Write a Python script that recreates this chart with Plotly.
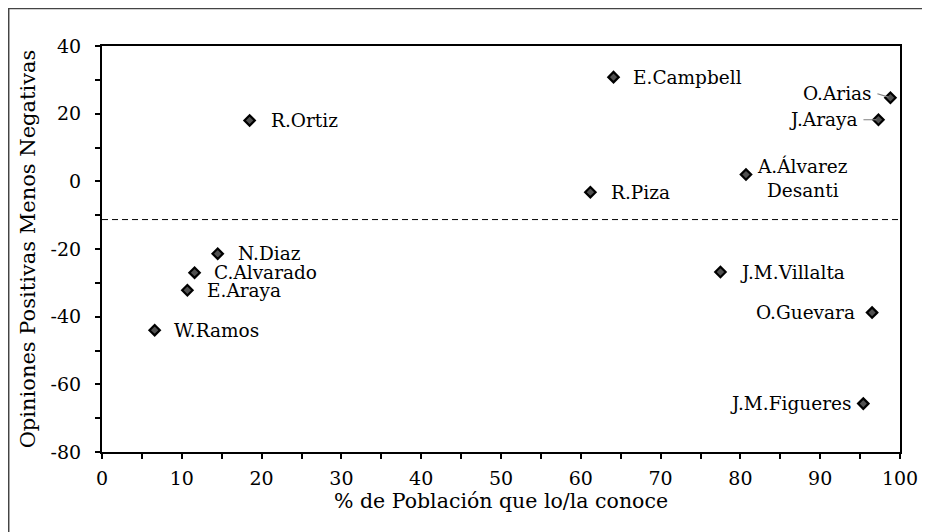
import plotly.graph_objects as go

# ---- data ----
names = ["R.Ortiz", "N.Diaz", "C.Alvarado", "E.Araya", "W.Ramos",
         "E.Campbell", "R.Piza", "O.Arias", "J.Araya", "A.Álvarez<br>Desanti",
         "J.M.Villalta", "O.Guevara", "J.M.Figueres"]
conoce = [18.5, 14.5, 11.6, 10.7, 6.6,
          64.1, 61.2, 98.8, 97.3, 80.7,
          77.5, 96.5, 95.4]
balance = [18.0, -21.4, -27.0, -32.2, -44.0,
           30.8, -3.2, 24.7, 18.2, 2.0,
           -26.8, -38.8, -65.7]
reference_line = -11.3

x_ticks = [0, 10, 20, 30, 40, 50, 60, 70, 80, 90, 100]
y_ticks = [-80, -60, -40, -20, 0, 20, 40]

x_title = "% de Población que lo/la conoce"
y_title = "Opiniones Positivas Menos Negativas"

# label placement (style only): side, x shift px, y shift px (up), leader line
label_style = {
    "R.Ortiz": ("right", 19, 0, False),
    "N.Diaz": ("right", 18, 0, False),
    "C.Alvarado": ("right", 17, 0, False),
    "E.Araya": ("right", 18, 0, False),
    "W.Ramos": ("right", 17, 0, False),
    "E.Campbell": ("right", 17, 0, False),
    "R.Piza": ("right", 19, 0, False),
    "O.Arias": ("left", -13, 4, True),
    "J.Araya": ("left", -15, 0, True),
    "A.Álvarez<br>Desanti": ("center", 9, -3, False),
    "J.M.Villalta": ("right", 18, 0, False),
    "O.Guevara": ("left", -15, 0, False),
    "J.M.Figueres": ("left", -10, 0, False),
}

FONT = "DejaVu Serif"
LBL = 18.5

fig = go.Figure()
fig.add_trace(go.Scatter(
    x=conoce, y=balance, mode="markers",
    marker=dict(symbol="diamond", size=8, color="#505050",
                line=dict(color="black", width=2.2)),
    hoverinfo="text", text=[n.replace("<br>", " ") for n in names],
    showlegend=False, cliponaxis=False,
))

for n, xv, yv in zip(names, conoce, balance):
    side, dx, dy, leader = label_style[n]
    if leader:
        fig.add_annotation(
            x=xv, y=yv, text=n, showarrow=True, arrowhead=0,
            arrowwidth=1.2, arrowcolor="#808080",
            ax=dx, ay=-dy, xanchor="right", yanchor="middle",
            borderpad=4, standoff=2,
            font=dict(family=FONT, size=LBL, color="black"))
    else:
        xa = "right" if side == "left" else "left"
        fig.add_annotation(
            x=xv, y=yv, text=n, showarrow=False,
            xanchor=xa, yanchor="middle", xshift=dx, yshift=dy,
            align="center",
            font=dict(family=FONT, size=LBL, color="black"))

fig.add_hline(y=reference_line, line=dict(color="black", width=1, dash="6px,4px"))

# outer frame (extends beyond the captured window)
fig.add_shape(type="rect", xref="paper", yref="paper",
              x0=-0.1169, x1=1.2, y0=-0.3, y1=1.0924,
              line=dict(color="#444444", width=1.5), layer="below")

fig.update_xaxes(
    range=[0, 100], tickvals=x_ticks, ticktext=[str(v) for v in x_ticks],
    ticks="outside", ticklen=5, tickwidth=1.5, tickcolor="black",
    showline=True, linecolor="black", linewidth=2, mirror=True,
    showgrid=False, zeroline=False,
    minor=dict(dtick=5, tick0=0, ticks="outside", ticklen=5, tickwidth=1.5, tickcolor="black"),
    tickfont=dict(family=FONT, size=19, color="black"),
    ticklabelstandoff=3,
    title=dict(text=x_title, font=dict(family=FONT, size=20.5, color="black"), standoff=0),
)
fig.update_yaxes(
    range=[-80, 40], tickvals=y_ticks, ticktext=[str(v) for v in y_ticks],
    ticks="outside", ticklen=5, tickwidth=1.5, tickcolor="black",
    showline=True, linecolor="black", linewidth=2, mirror=True,
    showgrid=False, zeroline=False,
    minor=dict(dtick=10, tick0=0, ticks="outside", ticklen=5, tickwidth=1.5, tickcolor="black"),
    tickfont=dict(family=FONT, size=19, color="black"),
    ticklabelstandoff=10,
    title=dict(text=y_title, font=dict(family=FONT, size=21, color="black"), standoff=9),
)

fig.update_layout(
    width=922, height=524,
    margin=dict(l=94, r=28, t=38, b=80),
    paper_bgcolor="white", plot_bgcolor="white",
    font=dict(family=FONT, color="black"),
)

fig.write_html("out.html")
